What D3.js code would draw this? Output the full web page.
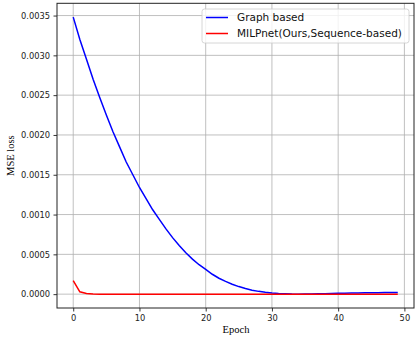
<!DOCTYPE html>
<html>
  <head>
    <meta charset="UTF-8">
    <title>MSE loss</title>
    <script src="https://d3js.org/d3.v7.min.js"></script>
    <style>
      body { margin: 0; background: #fff; }
    </style>
  </head>
  <body>
    <svg width="415" height="339"></svg>
    <script>
      // values
      const epochs = d3.range(0, 50);
      const graphBased = [
        0.00348, 0.00320, 0.00295, 0.00270, 0.00247, 0.00225, 0.00204, 0.00185, 0.00166, 0.00150,
        0.00134, 0.00120, 0.00106, 0.00094, 0.00082, 0.00071, 0.00061, 0.00052, 0.00044, 0.00037,
        0.00031, 0.00025, 0.00020, 0.00016, 0.000125, 0.000095, 0.00007, 0.00005, 0.000035, 0.000023,
        0.000014, 0.000008, 0.000004, 0.000001, 0.0, 0.000001, 0.000002, 0.000004, 0.000006, 0.000008,
        0.00001, 0.000012, 0.000014, 0.000016, 0.000017, 0.000018, 0.000019, 0.00002, 0.00002, 0.00002
      ];
      const milpnet = [0.00017, 0.00003, 0.000008, 0.000002].concat(d3.range(46).map(() => 0));
      const xTicks = [0, 10, 20, 30, 40, 50];
      const yTicks = [0, 0.0005, 0.001, 0.0015, 0.002, 0.0025, 0.003, 0.0035];
      const series = [
        { name: "Graph based", values: graphBased, color: "#0000ff" },
        { name: "MILPnet(Ours,Sequence-based)", values: milpnet, color: "#ff0000" }
      ];

      const svg = d3.select("svg");
      const mLeft = 57, mRight = 414, mTop = 3.3, mBottom = 308;

      const x = d3.scaleLinear().domain([-2.45, 51.45]).range([mLeft, mRight]);
      const y = d3.scaleLinear().domain([-0.000174, 0.003654]).range([mBottom, mTop]);

      // grid
      const grid = svg.append("g").attr("stroke", "#b0b0b0").attr("stroke-width", 0.8);
      grid.selectAll(".gx").data(xTicks).join("line")
        .attr("x1", d => x(d)).attr("x2", d => x(d))
        .attr("y1", mTop).attr("y2", mBottom);
      grid.selectAll(".gy").data(yTicks).join("line")
        .attr("x1", mLeft).attr("x2", mRight)
        .attr("y1", d => y(d)).attr("y2", d => y(d));

      // lines
      const line = d3.line()
        .x((d, i) => x(epochs[i]))
        .y(d => y(d));
      svg.append("g").selectAll("path").data(series).join("path")
        .attr("fill", "none")
        .attr("stroke", d => d.color)
        .attr("stroke-width", 1.5)
        .attr("d", d => line(d.values));

      // axes
      const xAxis = svg.append("g")
        .attr("transform", `translate(0,${mBottom})`)
        .call(d3.axisBottom(x).tickValues(xTicks).tickFormat(d3.format("d")).tickSize(3.5).tickPadding(3.5));
      const yAxis = svg.append("g")
        .attr("transform", `translate(${mLeft},0)`)
        .call(d3.axisLeft(y).tickValues(yTicks).tickFormat(d3.format(".4f")).tickSize(3.5).tickPadding(3.5));
      [xAxis, yAxis].forEach(a => {
        a.select(".domain").remove();
        a.selectAll("line").attr("stroke", "#000").attr("stroke-width", 0.8);
        a.selectAll("text").attr("font-family", "DejaVu Sans").attr("font-size", 8.3).attr("fill", "#222");
      });

      // frame
      svg.append("rect")
        .attr("x", mLeft).attr("y", mTop)
        .attr("width", mRight - mLeft).attr("height", mBottom - mTop)
        .attr("fill", "none").attr("stroke", "#222").attr("stroke-width", 1);

      // axis labels
      svg.append("text")
        .attr("x", 236).attr("y", 333)
        .attr("text-anchor", "middle")
        .attr("font-family", "Liberation Serif").attr("font-size", 10.5)
        .text("Epoch");
      svg.append("text")
        .attr("transform", `translate(14,${(mTop + mBottom) / 2}) rotate(-90)`)
        .attr("text-anchor", "middle")
        .attr("font-family", "Liberation Serif").attr("font-size", 10.5)
        .text("MSE loss");

      // legend
      const lg = svg.append("g").attr("transform", "translate(202,9)");
      lg.append("rect")
        .attr("width", 207).attr("height", 34).attr("rx", 2.5)
        .attr("fill", "#fff").attr("fill-opacity", 0.8)
        .attr("stroke", "#cccccc").attr("stroke-width", 0.8);
      const item = lg.selectAll("g.item").data(series).join("g")
        .attr("transform", (d, i) => `translate(0,${8.5 + i * 16})`);
      item.append("line")
        .attr("x1", 4).attr("x2", 26)
        .attr("stroke", d => d.color).attr("stroke-width", 1.5);
      item.append("text")
        .attr("x", 35).attr("dy", "0.35em")
        .attr("font-family", "DejaVu Sans").attr("font-size", 10.5).attr("fill", "#111")
        .text(d => d.name);
    </script>
  </body>
</html>
